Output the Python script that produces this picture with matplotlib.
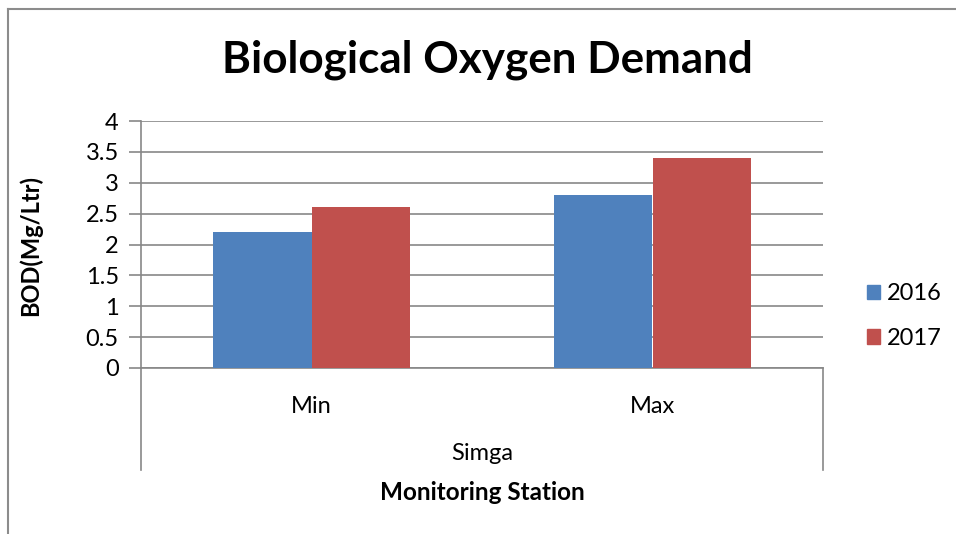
import matplotlib.pyplot as plt
from matplotlib.lines import Line2D
from matplotlib.patches import Patch

plt.rcParams['font.family'] = ['Lato', 'DejaVu Sans']

categories = ["Min", "Max"]
outer_label = "Simga"
series_names = ["2016", "2017"]
v2016 = [2.2, 2.8]
v2017 = [2.6, 3.4]
yticks = [0, 0.5, 1, 1.5, 2, 2.5, 3, 3.5, 4]
ytick_labels = ["0", "0.5", "1", "1.5", "2", "2.5", "3", "3.5", "4"]

blue = "#4F81BD"
red = "#C0504D"
grid_c = "#878787"

W, H = 956, 534
fig = plt.figure(figsize=(W / 100, H / 100), dpi=100)

# plot area in pixels
x0, x1 = 141, 823
y_top, y_bot = 121, 368
ax = fig.add_axes([x0 / W, 1 - y_bot / H, (x1 - x0) / W, (y_bot - y_top) / H])

xs = list(range(len(categories)))
bw = 0.2875
ax.bar([x - bw / 2 for x in xs], v2016, width=bw, color=blue, zorder=3)
ax.bar([x + bw / 2 for x in xs], v2017, width=bw, color=red, zorder=3)

ax.set_xlim(-0.5, len(categories) - 0.5)
ax.set_ylim(0, 4)
ax.set_yticks(yticks)
ax.set_yticklabels(ytick_labels)
ax.grid(axis="y", color=grid_c, linewidth=1.2, zorder=0)
ax.tick_params(axis="y", length=9, width=1.2, color=grid_c, labelsize=17, pad=7)
ax.set_xticks(xs)
ax.set_xticklabels(categories)
ax.tick_params(axis="x", length=0, labelsize=17, pad=20)

for s in ["top", "right"]:
    ax.spines[s].set_visible(False)
for s in ["left", "bottom"]:
    ax.spines[s].set_color(grid_c)
    ax.spines[s].set_linewidth(1.2)

# multi-level category axis dividers
y_low = -(470 - y_bot) / (y_bot - y_top)
for xa in [0, 1]:
    ax.add_line(Line2D([xa, xa], [0, y_low], transform=ax.transAxes,
                       color=grid_c, linewidth=1.2, clip_on=False))
ax.text(0.5, -(454 - y_bot) / (y_bot - y_top), outer_label, transform=ax.transAxes,
        ha="center", va="center", fontsize=17)

fig.text(487 / W, 1 - 60 / H, "Biological Oxygen Demand", ha="center", va="center",
         fontsize=31.7, fontweight="bold")
fig.text(482 / W, 1 - 493 / H, "Monitoring Station", ha="center", va="center",
         fontsize=17.5, fontweight="bold")
fig.text(30 / W, 1 - 245 / H, "BOD(Mg/Ltr)", ha="center", va="center",
         fontsize=17, fontweight="bold", rotation=90)

handles = [Patch(color=blue), Patch(color=red)]
fig.legend(handles, series_names, loc="center left", bbox_to_anchor=(846 / W, 1 - 316 / H),
           frameon=False, fontsize=17, handlelength=0.55, handleheight=0.55,
           handletextpad=0.3, labelspacing=1.0)

# outer chart border
fig.add_artist(Line2D([8 / W, 8 / W], [0, 1 - 9 / H], transform=fig.transFigure,
                      color="#8c8c8c", linewidth=1.5))
fig.add_artist(Line2D([8 / W, 1], [1 - 9 / H, 1 - 9 / H], transform=fig.transFigure,
                      color="#8c8c8c", linewidth=1.5))

fig.savefig("out.png", dpi=100)
